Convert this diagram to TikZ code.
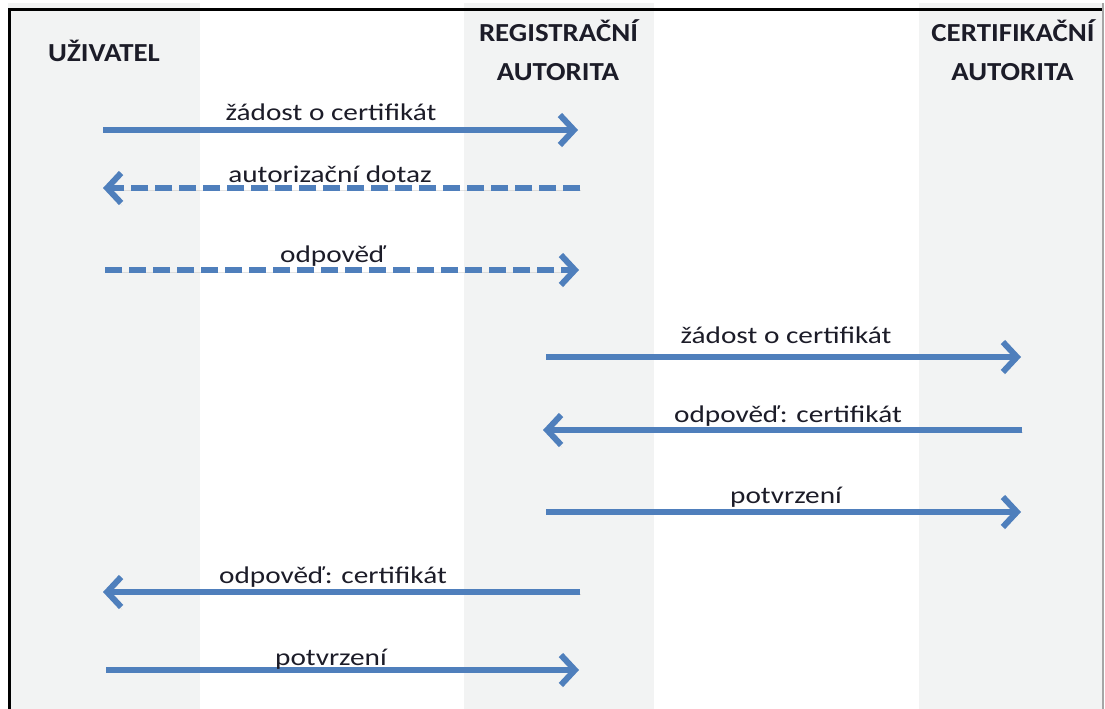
\documentclass[tikz,border=0pt]{standalone}
\usepackage{fontspec}
\usepackage{graphicx}
\setmainfont{Carlito}
\usetikzlibrary{arrows.meta}
\definecolor{lane}{HTML}{F2F3F3}
\definecolor{msg}{HTML}{4F7FBC}
\definecolor{ink}{HTML}{1C1C28}
\newcommand\hdtext[1]{\scalebox{1.11}[1]{#1}}
\newcommand\msgtext[1]{\scalebox{1.22}[1]{#1}}
\begin{document}
\begin{tikzpicture}[x=1pt,y=-1pt,
  lanebg/.style={fill=lane,draw=none},
  head/.style={font=\bfseries\fontsize{26}{31}\selectfont,text=ink,anchor=base,inner sep=0pt},
  lbl/.style={font=\fontsize{24}{29}\selectfont,text=ink,anchor=base,inner sep=0pt},
  msgline/.style={draw=msg,line width=6pt,
    -{Straight Barb[length=14pt,width=30pt]},
    preaction={draw=black!35,opacity=.3,transform canvas={xshift=1pt,yshift=-2.5pt}}},
  reply/.style={msgline,dash pattern=on 17pt off 7pt}]
\useasboundingbox (0,0) rectangle (1105,709);

% swim lanes
\fill[lanebg] (8,3) rectangle (200,709);
\fill[lanebg] (464,3) rectangle (654,709);
\fill[lanebg] (919,3) rectangle (1103,709);

% frame
\draw[line width=3.5pt,line cap=rect] (9.3,709) -- (9.3,9.3) -- (1101,9.3);
\draw[black!35,line width=2pt] (1103,3) -- (1103,709);

% lane titles
\node[head] (user) at (104,62) {\hdtext{UŽIVATEL}};
\node[head] (ra1) at (558.5,42) {\hdtext{REGISTRAČNÍ}};
\node[head] (ra2) at (558,80) {\hdtext{AUTORITA}};
\node[head] (ca1) at (1013,42) {\hdtext{CERTIFIKAČNÍ}};
\node[head] (ca2) at (1012.5,80) {\hdtext{AUTORITA}};

% message end points
\coordinate (u1) at (103,130);  \coordinate (r1) at (578,130);
\coordinate (r2) at (580,188);  \coordinate (u2) at (103,188);
\coordinate (u3) at (105,270);  \coordinate (r3) at (579,270);
\coordinate (r4) at (546,357);  \coordinate (c4) at (1021,357);
\coordinate (c5) at (1022,430); \coordinate (r5) at (543,430);
\coordinate (r6) at (546,512);  \coordinate (c6) at (1021,512);
\coordinate (r7) at (580,592);  \coordinate (u7) at (103,592);
\coordinate (u8) at (106,670);  \coordinate (r8) at (579,670);

% messages
\draw[msgline] (u1) -- (r1);
\draw[reply]   (r2) -- (u2);
\draw[reply]   (u3) -- (r3);
\draw[msgline] (r4) -- (c4);
\draw[msgline] (c5) -- (r5);
\draw[msgline] (r6) -- (c6);
\draw[msgline] (r7) -- (u7);
\draw[msgline] (u8) -- (r8);

% message labels
\node[lbl] (m1) at (331,120) {\msgtext{žádost o certifikát}};
\node[lbl] (m2) at (330,182) {\msgtext{autorizační dotaz}};
\node[lbl] (m3) at (333,262) {\msgtext{odpověď}};
\node[lbl] (m4) at (786,343) {\msgtext{žádost o certifikát}};
\node[lbl] (m5) at (788,422) {\msgtext{odpověď: certifikát}};
\node[lbl] (m6) at (786,503) {\msgtext{potvrzení}};
\node[lbl] (m7) at (333,583) {\msgtext{odpověď: certifikát}};
\node[lbl] (m8) at (331,665) {\msgtext{potvrzení}};
\end{tikzpicture}
\end{document}
